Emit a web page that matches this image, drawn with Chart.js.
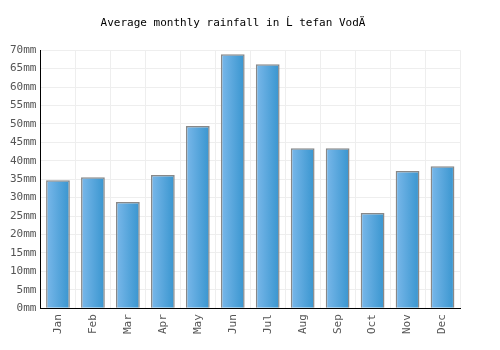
<!DOCTYPE html>
<html>
<head>
<meta charset="utf-8">
<script src="https://cdn.jsdelivr.net/npm/chart.js@4"></script>
<style>
html, body { margin: 0; padding: 0; background: #fff; }
#wrap { width: 500px; height: 350px; }
</style>
</head>
<body>
<div id="wrap"><canvas id="myChart"></canvas></div>
<script>
var months = ['Jan', 'Feb', 'Mar', 'Apr', 'May', 'Jun', 'Jul', 'Aug', 'Sep', 'Oct', 'Nov', 'Dec'];
var rainfall = [34.7, 35.5, 28.8, 36.1, 49.4, 68.9, 66.2, 43.4, 43.4, 25.8, 37.2, 38.5];
var tickStep = 5;
var tickMax = 70;

function barFill(c) {
    var chart = c.chart;
    var x = chart.scales.x;
    if (!x || !chart.chartArea || c.dataIndex === undefined) return '#4a9fd8';
    var px = x.getPixelForValue(c.dataIndex);
    var half = (x.width / months.length) * 0.68 / 2;
    var g = chart.ctx.createLinearGradient(px - half, 0, px + half, 0);
    g.addColorStop(0, '#7ab8ea');
    g.addColorStop(1, '#3895cf');
    return g;
}

var ctx = document.getElementById('myChart').getContext('2d');
var myChart = new Chart(ctx, {
    type: 'bar',
    data: {
        labels: months,
        datasets: [{
            data: rainfall,
            backgroundColor: barFill,
            borderColor: '#888888',
            borderWidth: 1.5,
            borderSkipped: 'bottom',
            barPercentage: 0.68,
            categoryPercentage: 1.0
        }]
    },
    options: {
        responsive: true,
        maintainAspectRatio: false,
        animation: false,
        layout: { padding: { left: 6, right: 40, top: 5, bottom: 10 } },
        plugins: {
            legend: { display: false },
            tooltip: { enabled: false },
            title: {
                display: true,
                text: 'Average monthly rainfall in Ĺ tefan VodÄ',
                color: '#000',
                font: { family: 'DejaVu Sans Mono', size: 11, weight: 'normal' },
                padding: { top: 12, bottom: 20 }
            }
        },
        scales: {
            x: {
                grid: { color: '#eeeeee', drawTicks: false, offset: true },
                border: { color: '#000', width: 1 },
                ticks: {
                    color: '#555',
                    maxRotation: 90,
                    minRotation: 90,
                    padding: 6,
                    font: { family: 'DejaVu Sans Mono', size: 11 }
                }
            },
            y: {
                min: 0,
                max: tickMax,
                grid: { color: '#eeeeee', drawTicks: false },
                border: { color: '#000', width: 1 },
                ticks: {
                    stepSize: tickStep,
                    color: '#555',
                    padding: 4,
                    font: { family: 'DejaVu Sans Mono', size: 11 },
                    callback: function (v) { return v + 'mm'; }
                }
            }
        }
    }
});
</script>
</body>
</html>
